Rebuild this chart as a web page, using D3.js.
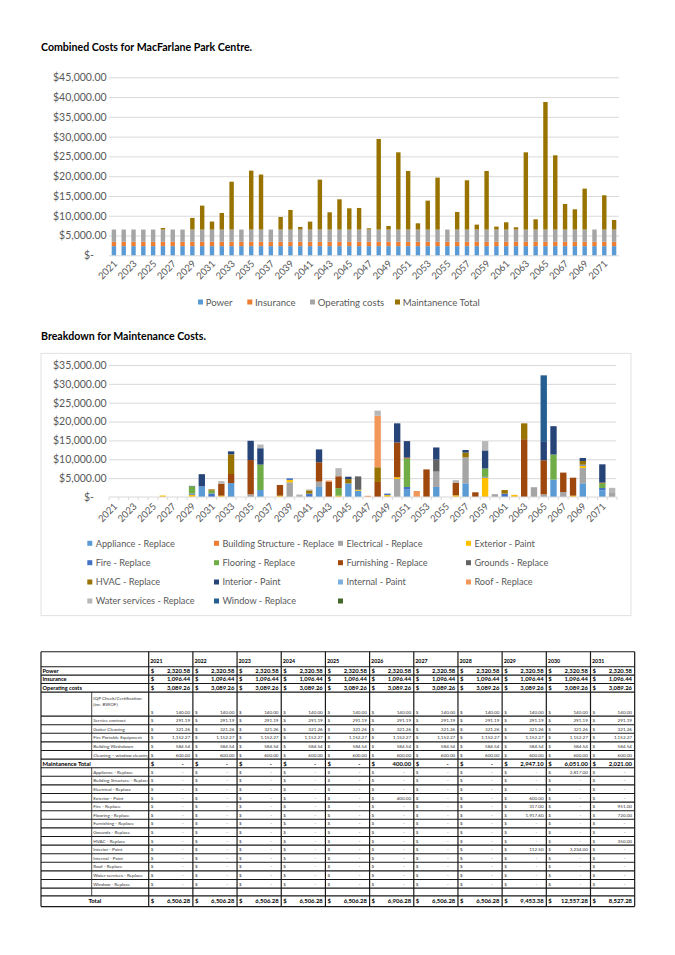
<!DOCTYPE html>
<html>
<head>
<meta charset="utf-8">
<script src="https://cdn.jsdelivr.net/npm/d3@7"></script>
<style>
  body { margin: 0; background: #fff; }
  svg { font-family: Lato, "Open Sans", sans-serif; }
</style>
</head>
<body>
<svg id="page" width="675" height="955"></svg>
<script>
// ---- data ----
var years = d3.range(2021, 2073);
var power = years.map(function() { return 2320.58; });
var insurance = years.map(function() { return 1096.44; });
var operating = years.map(function() { return 3089.26; });

// maintenance breakdown, [year, value] for the years that have a cost
var appliance = [[2030,2817],[2033,3700],[2036,1860],[2042,2660],[2045,3600],[2046,1650],[2051,1950],[2054,2660],[2057,3630],[2066,4610],[2069,3630],[2071,1770]];
var buildingStructure = [];
var electrical = [[2035,700],[2039,3900],[2042,1420],[2050,4790],[2054,4080],[2057,6910],[2060,741],[2064,2595],[2065,710],[2067,1330],[2069,4058],[2072,1060]];
var exterior = [[2026,400],[2029,600],[2032,350],[2038,350],[2039,620],[2044,350],[2046,270],[2049,500],[2050,440],[2056,440],[2059,5150],[2062,573],[2068,350],[2069,620]];
var fire = [[2029,317],[2031,951],[2039,440],[2041,900],[2049,410],[2051,710],[2059,200],[2061,900],[2069,265],[2071,620]];
var flooring = [[2029,1917.6],[2031,720],[2036,6730],[2044,2000],[2051,7530],[2059,2200],[2066,6650],[2071,1150]];
var furnishing = [[2032,3200],[2033,2400],[2035,9100],[2038,2835],[2042,5140],[2043,3990],[2044,3150],[2048,3990],[2050,9220],[2051,265],[2053,7314],[2056,3280],[2058,1247],[2063,15330],[2065,9040],[2067,5142],[2068,4773]];
var grounds = [[2046,3540],[2054,3190]];
var hvac = [[2031,350],[2033,5200],[2041,850],[2045,1150],[2048,3900],[2057,1240],[2061,937],[2063,4200],[2069,975],[2071,265]];
var interiorPaint = [[2029,112.5],[2030,3234],[2033,800],[2035,5100],[2036,4340],[2042,3400],[2045,626],[2050,5083],[2051,4360],[2054,3200],[2057,675],[2059,4800],[2065,5050],[2066,7515],[2069,800],[2071,4858]];
var internalPaint = [];
var roof = [[2043,375],[2047,320],[2048,13650],[2052,1584]];
var waterServices = [[2032,650],[2036,975],[2040,660],[2041,255],[2044,2150],[2048,1364],[2056,729],[2059,2464],[2072,1367]];
var windowReplace = [[2065,17458]];
var blankSeries = [];

var catNames = ["Appliance - Replace","Building Structure - Replace","Electrical - Replace","Exterior - Paint",
  "Fire - Replace","Flooring - Replace","Furnishing - Replace","Grounds - Replace","HVAC - Replace",
  "Interior - Paint","Internal - Paint","Roof - Replace","Water services - Replace","Window - Replace",""];
var catData = [appliance, buildingStructure, electrical, exterior, fire, flooring, furnishing, grounds, hvac,
  interiorPaint, internalPaint, roof, waterServices, windowReplace, blankSeries];
var catColors = ["#5B9BD5","#ED7D31","#A5A5A5","#FFC000","#4472C4","#70AD47","#9E480E","#636363","#997300",
  "#264478","#7CAFDD","#F1975A","#B7B7B7","#255E91","#43682B"];

// operating cost items (table)
var opItems = ["IQP Check/Certification|(inc. BWOF)","Service contract","Gutter Cleaning","Fire Portable Equipment","Building Washdown","Cleaning \u2013 window cleaning"];
var opValues = [140.00, 291.19, 321.26, 1152.27, 584.54, 600.00];
var tableYears = d3.range(2021, 2032);

function valueOf(list, yr) {
  var f = list.find(function(p) { return p[0] === yr; });
  return f ? f[1] : 0;
}
var maintTotal = years.map(function(yr) {
  return d3.sum(catData, function(list) { return valueOf(list, yr); });
});

var svg = d3.select('#page');
var axisGrey = '#595959';

// ---- chart 1 ----
svg.append('text').attr('x', 41).attr('y', 51)
  .attr('font-size', 10.6).attr('font-weight', 'bold').text('Combined Costs for MacFarlane Park Centre.');

var x1 = d3.scaleBand().domain(years).range([109, 619]).paddingInner(0.55).paddingOuter(0.275);
var y1 = d3.scaleLinear().domain([0, 45000]).range([255.3, 77.3]);

var money = function(d) { return d === 0 ? '$-' : '$' + d3.format(',.2f')(d); };

var grid1 = svg.append('g').attr('transform', 'translate(109,0)')
  .call(d3.axisLeft(y1).tickValues(d3.range(0, 45001, 5000)).tickSize(-510).tickFormat(''));
grid1.select('.domain').remove();
grid1.selectAll('line').attr('stroke', '#d9d9d9');

var ax1 = svg.append('g').attr('transform', 'translate(109,0)')
  .call(d3.axisLeft(y1).tickValues(d3.range(0, 45001, 5000)).tickSize(0).tickPadding(2.4).tickFormat(money));
ax1.select('.domain').remove();
ax1.selectAll('text').attr('fill', axisGrey).attr('font-size', 10.5).attr('font-family', 'Lato')
  .filter(function(d) { return d === 0; }).attr('dx', -12.7);

var rows1 = years.map(function(yr, i) {
  return { year: yr, power: power[i], insurance: insurance[i], operating: operating[i], maint: maintTotal[i] };
});
var keys1 = ['power', 'insurance', 'operating', 'maint'];
var colors1 = ['#5B9BD5', '#ED7D31', '#A5A5A5', '#997300'];
var stack1 = d3.stack().keys(keys1)(rows1);

svg.append('g').selectAll('g').data(stack1).enter().append('g')
  .attr('fill', function(d, i) { return colors1[i]; })
  .selectAll('rect').data(function(d) { return d; }).enter().append('rect')
  .attr('x', function(d) { return x1(d.data.year); })
  .attr('width', x1.bandwidth())
  .attr('y', function(d) { return y1(d[1]); })
  .attr('height', function(d) { return y1(d[0]) - y1(d[1]); });

var xa1 = svg.append('g').attr('transform', 'translate(0,255.3)')
  .call(d3.axisBottom(x1).tickValues(years.filter(function(d, i) { return i % 2 === 0; })).tickSize(0));
xa1.select('.domain').remove();
xa1.selectAll('text').attr('y', 0).attr('dy', 0).attr('fill', axisGrey).attr('font-size', 9.6)
  .attr('font-family', 'Lato').attr('text-anchor', 'end')
  .attr('transform', 'translate(4,9) rotate(-45)');

var legend1 = [['Power', 198], ['Insurance', 247.3], ['Operating costs', 310], ['Maintanence Total', 395]];
var lg1 = svg.append('g').selectAll('g').data(legend1).enter().append('g');
lg1.append('rect').attr('x', function(d) { return d[1]; }).attr('y', 299.5).attr('width', 5).attr('height', 5)
  .attr('fill', function(d, i) { return colors1[i]; });
lg1.append('text').attr('x', function(d) { return d[1] + 7.7; }).attr('y', 305.5)
  .attr('font-size', 9.6).attr('fill', axisGrey).text(function(d) { return d[0]; });

// ---- chart 2 ----
svg.append('text').attr('x', 41).attr('y', 340)
  .attr('font-size', 10.6).attr('font-weight', 'bold').text('Breakdown for Maintenance Costs.');
svg.append('rect').attr('x', 41).attr('y', 353.3).attr('width', 590).attr('height', 262.4)
  .attr('fill', 'none').attr('stroke', '#d9d9d9').attr('stroke-width', 0.8);

var x2 = d3.scaleBand().domain(years).range([109, 617]).paddingInner(0.35).paddingOuter(0.175);
var y2 = d3.scaleLinear().domain([0, 35000]).range([497, 365]);

var grid2 = svg.append('g').attr('transform', 'translate(109,0)')
  .call(d3.axisLeft(y2).tickValues(d3.range(5000, 35001, 5000)).tickSize(-507).tickFormat(''));
grid2.select('.domain').remove();
grid2.selectAll('line').attr('stroke', '#d9d9d9');

var ax2 = svg.append('g').attr('transform', 'translate(109,0)')
  .call(d3.axisLeft(y2).tickValues(d3.range(0, 35001, 5000)).tickSize(0).tickPadding(2.4).tickFormat(money));
ax2.select('.domain').remove();
ax2.selectAll('text').attr('fill', axisGrey).attr('font-size', 10.5).attr('font-family', 'Lato')
  .filter(function(d) { return d === 0; }).attr('dx', -12.7);

var rows2 = years.map(function(yr) {
  var r = { year: yr };
  catData.forEach(function(list, k) { r['c' + k] = valueOf(list, yr); });
  return r;
});
var keys2 = catData.map(function(d, k) { return 'c' + k; });
var stack2 = d3.stack().keys(keys2)(rows2);

svg.append('g').selectAll('g').data(stack2).enter().append('g')
  .attr('fill', function(d, i) { return catColors[i]; })
  .selectAll('rect').data(function(d) { return d; }).enter().append('rect')
  .attr('x', function(d) { return x2(d.data.year); })
  .attr('width', x2.bandwidth())
  .attr('y', function(d) { return y2(d[1]); })
  .attr('height', function(d) { return y2(d[0]) - y2(d[1]); });

// x axis with ticks between categories
svg.append('line').attr('x1', 109).attr('x2', 617).attr('y1', 497).attr('y2', 497)
  .attr('stroke', '#d9d9d9');
svg.append('g').selectAll('line').data(years.concat([2073])).enter().append('line')
  .attr('x1', function(d) { return d === 2073 ? 617 : x2(d) - x2.step() * x2.paddingInner() / 2; })
  .attr('x2', function(d) { return d === 2073 ? 617 : x2(d) - x2.step() * x2.paddingInner() / 2; })
  .attr('y1', 497).attr('y2', 500).attr('stroke', '#d9d9d9');

var xa2 = svg.append('g').attr('transform', 'translate(0,497)')
  .call(d3.axisBottom(x2).tickValues(years.filter(function(d, i) { return i % 2 === 0; })).tickSize(0));
xa2.select('.domain').remove();
xa2.selectAll('text').attr('y', 0).attr('dy', 0).attr('fill', axisGrey).attr('font-size', 9.6)
  .attr('font-family', 'Lato').attr('text-anchor', 'end')
  .attr('transform', 'translate(4,10) rotate(-45)');

var legCols = [87.3, 214, 338, 466];
var legRows = [543.3, 562.7, 582, 601];
var lg2 = svg.append('g').selectAll('g').data(catNames).enter().append('g')
  .attr('transform', function(d, i) { return 'translate(' + legCols[i % 4] + ',' + legRows[Math.floor(i / 4)] + ')'; });
lg2.append('rect').attr('x', 0).attr('y', -2.5).attr('width', 5).attr('height', 5)
  .attr('fill', function(d, i) { return catColors[i]; });
lg2.append('text').attr('x', 8.4).attr('y', 3.3).attr('font-size', 9.2).attr('fill', axisGrey)
  .text(function(d) { return d; });

// ---- table ----
var tLeft = 41, tSplit = 91.7, tCol0 = 148.7, tColW = 44.18, tRight = tCol0 + tColW * tableYears.length;
var colX = function(i) { return tCol0 + i * tColW; };
var tRows = [];
tRows.push({ kind: 'header', h: 15 });
tRows.push({ kind: 'main', label: 'Power', vals: power.slice(0, 11), h: 8.4 });
tRows.push({ kind: 'main', label: 'Insurance', vals: insurance.slice(0, 11), h: 8.4 });
tRows.push({ kind: 'main', label: 'Operating costs', vals: operating.slice(0, 11), h: 8.6 });
opItems.forEach(function(name, k) {
  tRows.push({ kind: 'sub', label: name, vals: tableYears.map(function() { return opValues[k]; }), h: k === 0 ? 24 : 8.6 });
});
tRows.push({ kind: 'main', label: 'Maintanence Total', vals: maintTotal.slice(0, 11), h: 8.6, big: true });
catNames.slice(0, 14).forEach(function(name, k) {
  tRows.push({ kind: 'sub', label: name, vals: tableYears.map(function(yr) { return valueOf(catData[k], yr); }), h: 8.6 });
});
tRows.push({ kind: 'blank', h: 7.8 });
tRows.push({ kind: 'total', label: 'Total', vals: tableYears.map(function(yr, i) {
  return power[i] + insurance[i] + operating[i] + maintTotal[i]; }), h: 10.7 });

var ty = 651.7;
tRows.forEach(function(r) { r.y = ty; ty += r.h; });
var tBottom = ty;

var tg = svg.append('g');
svg.append('clipPath').attr('id', 'labclip').append('rect')
  .attr('x', tSplit).attr('y', 640).attr('width', tCol0 - tSplit - 1).attr('height', 280);

var fmt = d3.format(',.2f');
tRows.forEach(function(r) {
  var g = tg.append('g');
  if (r.kind === 'header') {
    tableYears.forEach(function(yr, i) {
      g.append('text').attr('x', colX(i) + 1.5).attr('y', r.y + 10.8).attr('font-size', 5.3)
        .attr('font-weight', 'bold').text(yr);
    });
    return;
  }
  if (r.kind === 'blank') return;
  var bold = r.kind !== 'sub';
  var fs = bold ? 5.9 : 4.6;
  var base = r.kind === 'sub' ? r.y + r.h - 2.6 : r.y + r.h / 2 + 2.1;
  // label
  if (r.kind === 'sub') {
    var parts = r.label.split('|');
    var lt = g.append('text').attr('clip-path', 'url(#labclip)').attr('font-size', 4.6).attr('fill', '#333');
    parts.forEach(function(p, j) {
      lt.append('tspan').attr('x', tSplit + 1.5)
        .attr('y', parts.length > 1 ? r.y + 7.5 + j * 6.7 : base).text(p);
    });
  } else if (r.kind === 'total') {
    g.append('text').attr('x', (tLeft + tCol0) / 2).attr('y', base).attr('text-anchor', 'middle')
      .attr('font-size', 5.9).attr('font-weight', 'bold').text(r.label);
  } else {
    g.append('text').attr('x', tLeft + 1.5).attr('y', base).attr('font-size', r.big ? 5.9 : 5.6)
      .attr('font-weight', 'bold').text(r.label);
  }
  // values
  r.vals.forEach(function(v, i) {
    g.append('text').attr('x', colX(i) + 2).attr('y', base).attr('font-size', fs)
      .attr('font-weight', bold ? 'bold' : 'normal').attr('fill', bold ? '#000' : '#333').text('$');
    if (v === 0) {
      g.append('text').attr('x', colX(i) + 35).attr('y', base).attr('text-anchor', 'end')
        .attr('font-size', fs).attr('font-weight', bold ? 'bold' : 'normal').attr('fill', bold ? '#000' : '#333').text('-');
    } else {
      g.append('text').attr('x', colX(i) + 41.5).attr('y', base).attr('text-anchor', 'end')
        .attr('font-size', fs).attr('font-weight', bold ? 'bold' : 'normal').attr('fill', bold ? '#000' : '#333').text(fmt(v));
    }
  });
});

// grid lines of the table
var lineCol = '#1a1a1a';
tRows.forEach(function(r) {
  tg.append('line').attr('x1', tLeft).attr('x2', tRight).attr('y1', r.y).attr('y2', r.y)
    .attr('stroke', lineCol).attr('stroke-width', 1.1);
  if (r.kind === 'sub' || r.kind === 'blank') {
    tg.append('line').attr('x1', tSplit).attr('x2', tSplit).attr('y1', r.y).attr('y2', r.y + r.h)
      .attr('stroke', lineCol).attr('stroke-width', 0.8);
  }
});
tg.append('line').attr('x1', tLeft).attr('x2', tRight).attr('y1', tBottom).attr('y2', tBottom)
  .attr('stroke', lineCol).attr('stroke-width', 1.4);
[tLeft].concat(tableYears.map(function(d, i) { return colX(i); })).concat([tRight]).forEach(function(xv) {
  tg.append('line').attr('x1', xv).attr('x2', xv).attr('y1', 651.7).attr('y2', tBottom)
    .attr('stroke', lineCol).attr('stroke-width', 1.2);
});
</script>
</body>
</html>
